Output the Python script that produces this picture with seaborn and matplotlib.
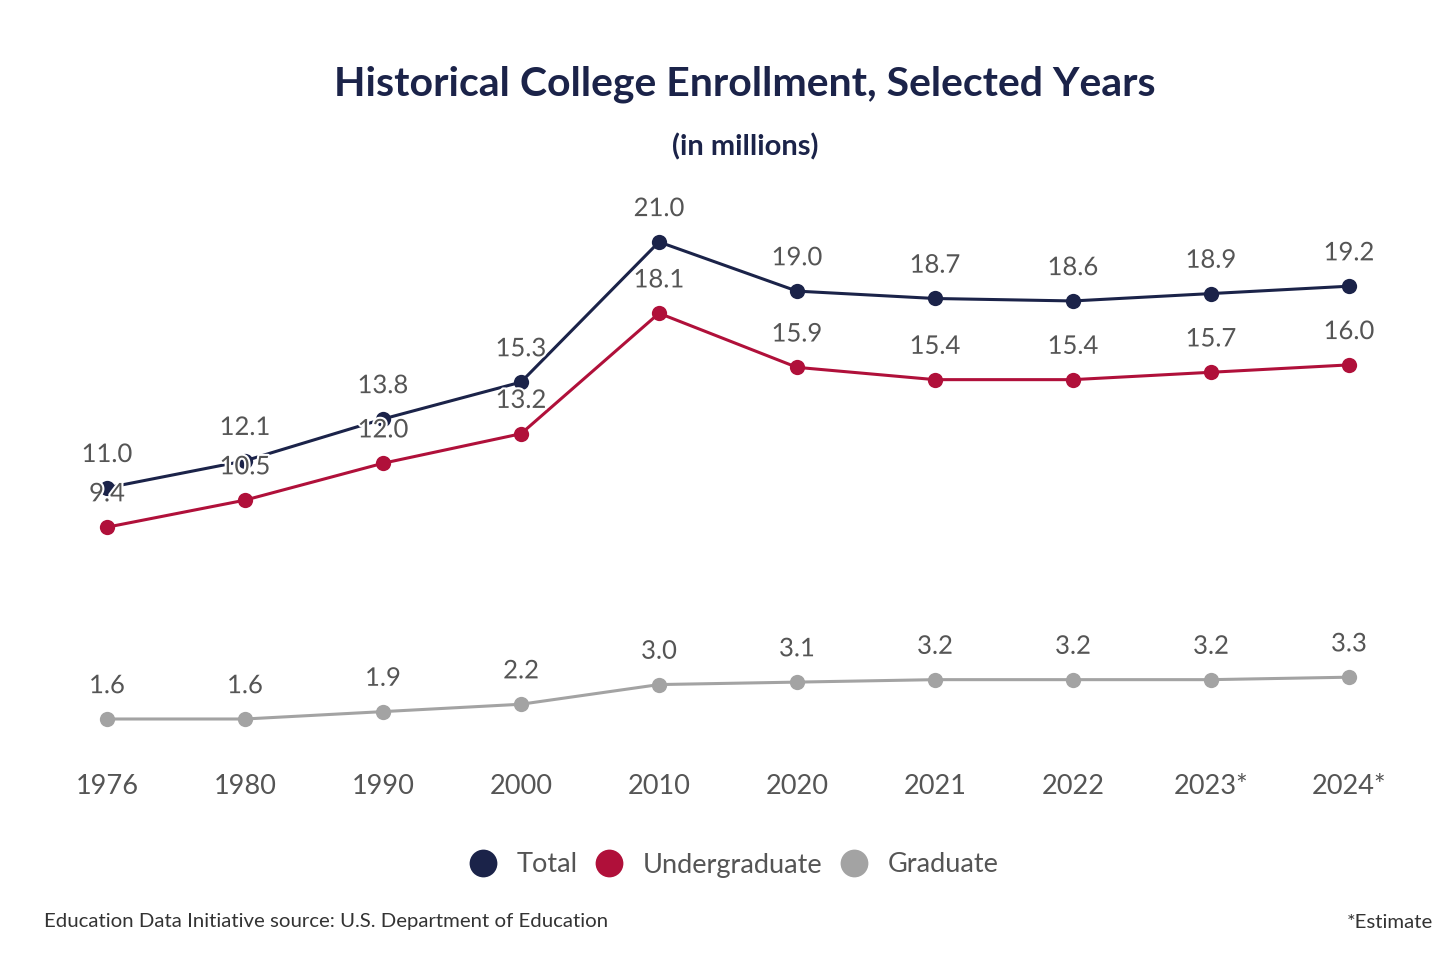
import matplotlib
matplotlib.use("Agg")
import matplotlib.pyplot as plt
import matplotlib.patheffects as pe
from matplotlib.lines import Line2D
import seaborn as sns
import pandas as pd

years = ["1976", "1980", "1990", "2000", "2010", "2020", "2021", "2022", "2023*", "2024*"]
total = [11.0, 12.1, 13.8, 15.3, 21.0, 19.0, 18.7, 18.6, 18.9, 19.2]
undergraduate = [9.4, 10.5, 12.0, 13.2, 18.1, 15.9, 15.4, 15.4, 15.7, 16.0]
graduate = [1.6, 1.6, 1.9, 2.2, 3.0, 3.1, 3.2, 3.2, 3.2, 3.3]
series_names = ["Total", "Undergraduate", "Graduate"]
colors = {"Total": "#1b2349", "Undergraduate": "#b0103a", "Graduate": "#a3a3a3"}

rows = []
for name, vals in zip(series_names, [total, undergraduate, graduate]):
    for i, v in enumerate(vals):
        rows.append({"pos": i, "year": years[i], "value": v, "series": name})
df = pd.DataFrame(rows)

sns.set_theme(style="white")
plt.rcParams["font.family"] = ["Lato", "DejaVu Sans"]

fig = plt.figure(figsize=(14.56, 9.69), dpi=100)
ax = fig.add_axes([38 / 1456, 0.2174, 1380 / 1456, 0.5583])

sns.lineplot(data=df, x="pos", y="value", hue="series", palette=colors,
             hue_order=series_names, marker="o", markersize=11,
             markeredgewidth=0, linewidth=2.2, legend=False, ax=ax)

for _, r in df.iterrows():
    ax.annotate(f"{r['value']:.1f}", (r["pos"], r["value"]), xytext=(0, 24),
                textcoords="offset points", ha="center", va="center",
                fontsize=18.5, color="#555555",
                path_effects=[pe.withStroke(linewidth=3, foreground="white")])

ax.set_xlim(-0.5, 9.5)
ax.set_ylim(0, 22)
ax.set_xticks(range(len(years)))
ax.set_xticklabels(years, fontsize=19.5, color="#555555")
ax.tick_params(axis="x", length=0, pad=11)
ax.set_yticks([])
ax.set_xlabel("")
ax.set_ylabel("")
for s in ax.spines.values():
    s.set_visible(False)

fig.text(745 / 1456, 1 - 84 / 969, "Historical College Enrollment, Selected Years",
         ha="center", va="center", fontsize=29.5, fontweight="bold", color="#1b2349")
fig.text(745 / 1456, 1 - 147 / 969, "(in millions)", ha="center", va="center",
         fontsize=21, fontweight="bold", color="#1b2349")

handles = [Line2D([0], [0], marker="o", linestyle="", markersize=20,
                  markerfacecolor=colors[n], markeredgewidth=0) for n in series_names]
fig.legend(handles, series_names, loc="center", bbox_to_anchor=(730 / 1456, 1 - 865 / 969),
           ncol=3, frameon=False, fontsize=19.5, handletextpad=0.45, columnspacing=0.35,
           handlelength=1.6, labelcolor="#555555")

fig.text(44 / 1456, 1 - 922 / 969, "Education Data Initiative source: U.S. Department of Education",
         ha="left", va="center", fontsize=14.7, color="#333333")
fig.text(1433 / 1456, 1 - 922 / 969, "*Estimate", ha="right", va="center",
         fontsize=14.7, color="#333333")

fig.savefig("out.png", dpi=100, facecolor="white")
